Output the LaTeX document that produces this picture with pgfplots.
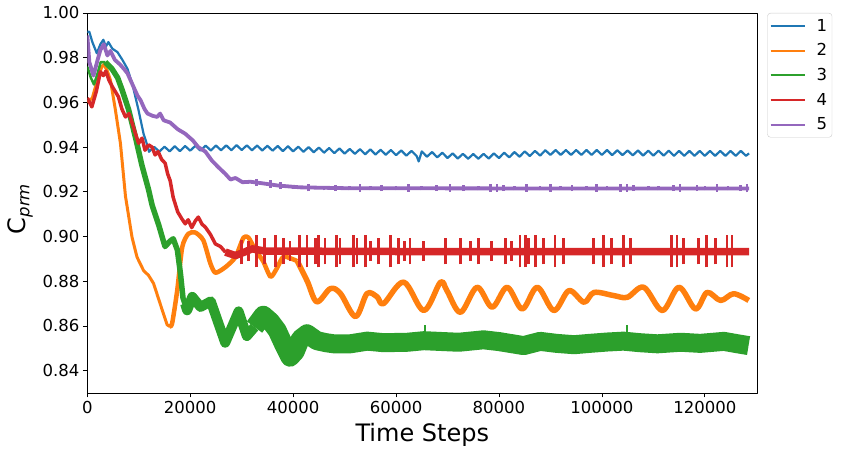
\documentclass[border=0pt]{standalone}
\usepackage{fontspec}
\setmainfont{DejaVu Sans}
\usepackage{pgfplots}
\pgfplotsset{compat=1.18}
\definecolor{c1}{HTML}{1F77B4}
\definecolor{c2}{HTML}{FF7F0E}
\definecolor{c3}{HTML}{2CA02C}
\definecolor{c4}{HTML}{D62728}
\definecolor{c5}{HTML}{9467BD}
\begin{document}
\begin{tikzpicture}
\useasboundingbox (-87.3pt,-61pt) rectangle (754.7pt,393pt);
\begin{axis}[
  at={(0pt,0pt)}, anchor=south west,
  scale only axis, width=670pt, height=380pt,
  xmin=0, xmax=130200, ymin=0.83, ymax=1.0,
  xtick={0,20000,40000,60000,80000,100000,120000},
  ytick={0.84,0.86,0.88,0.90,0.92,0.94,0.96,0.98,1.00},
  scaled x ticks=false, scaled y ticks=false,
  xticklabel style={/pgf/number format/.cd, fixed, 1000 sep={}},
  yticklabel style={/pgf/number format/.cd, fixed, fixed zerofill, precision=2},
  /pgf/number format/assume math mode=true,
  tick label style={font=\fontsize{16.5}{20}\selectfont},
  tick align=outside, major tick length=4.5pt,
  tick style={line width=0.8pt, black},
  xtick pos=left, ytick pos=left,
  axis line style={line width=0.8pt},
  xlabel={Time Steps},
  ylabel={C\raisebox{-4pt}{\fontsize{16.5}{20}\selectfont\itshape prm}},
  label style={font=\fontsize{24}{28}\selectfont},
  xlabel style={at={(axis description cs:0.5,0)}, anchor=north, yshift=-30pt, inner sep=0pt},
  ylabel style={at={(axis description cs:-0.081,0.484)}, anchor=south, inner sep=0pt},
  legend style={at={(1,1)}, anchor=north west, xshift=10pt, draw=black!20,
    rounded corners=3pt, fill=white, inner xsep=2pt, inner ysep=3pt, row sep=5pt,
    nodes={inner sep=3pt}, font=\fontsize{16.5}{20}\selectfont},
  legend cell align=left,
  legend image code/.code={\draw[#1] (0pt,0pt) -- (34pt,0pt); \path (42pt,0pt);},
  line join=round,
]
\addlegendimage{c1, line width=2pt}\addlegendentry{1}
\addlegendimage{c2, line width=2pt}\addlegendentry{2}
\addlegendimage{c3, line width=2pt}\addlegendentry{3}
\addlegendimage{c4, line width=2pt}\addlegendentry{4}
\addlegendimage{c5, line width=2pt}\addlegendentry{5}

% ---- series 1 (blue)
\addplot[c1, line width=2.2pt, forget plot] coordinates {
(0,0.9916)(390,0.9916)(980,0.987)(1850,0.982)(2540,0.986)(3120,0.988)(3610,0.985)(4100,0.987)(4880,0.984)(5860,0.9825)(6830,0.979)(7810,0.975)(8780,0.968)(9960,0.9565)(10930,0.946)(11710,0.9405)
(12000,.9379)(13000,.9401)(14000,.9380)(15000,.9402)(16000,.9381)(17000,.9404)(18000,.9382)(19000,.9405)(20000,.9384)(21000,.9406)(22000,.9384)(23000,.9407)(24000,.9385)(25000,.9407)(26000,.9386)(27000,.9408)(28000,.9386)(29000,.9409)(30000,.9387)(31000,.9408)(32000,.9386)(33000,.9407)(34000,.9385)(35000,.9406)(36000,.9384)(37000,.9405)(38000,.9382)(39000,.9404)(40000,.9381)(41000,.9402)(42000,.9379)(43000,.9400)(44000,.9377)(45000,.9398)(46000,.9375)(47000,.9396)(48000,.9373)(49000,.9394)(50000,.9371)(51000,.9392)(52000,.9370)(53000,.9391)(54000,.9368)(55000,.9390)(56000,.9367)(57000,.9388)(58000,.9366)(59000,.9387)(60000,.9364)(61000,.9385)(62000,.9362)(63000,.9383)(64000,.9360)(64400,.9336)(65000,.9381)(66000,.9357)(67000,.9378)(68000,.9354)(69000,.9375)(70000,.9351)(71000,.9372)(72000,.9349)(73000,.9370)(74000,.9348)(75000,.9369)(76000,.9348)(77000,.9370)(78000,.9349)(79000,.9372)(80000,.9351)(81000,.9375)(82000,.9354)(83000,.9378)(84000,.9357)(85000,.9381)(86000,.9360)(87000,.9383)(88000,.9362)(89000,.9386)(90000,.9365)(91000,.9387)(92000,.9365)(93000,.9387)(94000,.9365)(95000,.9387)(96000,.9365)(97000,.9387)(98000,.9365)(99000,.9387)(100000,.9365)(101000,.9387)(102000,.9364)(103000,.9386)(104000,.9364)(105000,.9385)(106000,.9363)(107000,.9385)(108000,.9362)(109000,.9384)(110000,.9362)(111000,.9384)(112000,.9362)(113000,.9384)(114000,.9361)(115000,.9383)(116000,.9361)(117000,.9383)(118000,.9361)(119000,.9383)(120000,.9361)(121000,.9383)(122000,.9361)(123000,.9383)(124000,.9361)(125000,.9383)(126000,.9361)(127000,.9383)(128000,.9361)(128600,.9372)
};

% ---- series 2 (orange)
\addplot[c2, line width=3pt, forget plot] coordinates {
(0,0.960)(980,0.962)(1950,0.970)(2830,0.976)(3220,0.977)(3900,0.974)(4490,0.970)(5470,0.9565)(6440,0.9417)(7420,0.918)(8690,0.8997)(9660,0.8908)(10930,0.8848)(11910,0.8826)(12880,0.879)(14150,0.870)(15520,0.8605)(16010,0.8598)(16490,0.8612)
};
\addplot[c2, line width=4.5pt, forget plot, smooth, tension=0.4] coordinates {
(16010,0.8598)(16490,0.8612)(17470,0.8758)(18450,0.8953)(19620,0.9012)(20980,0.9018)(22550,0.8983)(23910,0.888)(24890,0.8838)(26840,0.8863)(28790,0.8908)(30350,0.8995)(31330,0.8995)(32700,0.8938)(34160,0.889)(35620,0.882)(36890,0.886)(38160,0.891)(40800,0.889)
};
\addplot[c2, line width=5.5pt, forget plot, smooth, tension=0.55] coordinates {
(40800,0.889)(42750,0.880)(44600,0.8708)(47240,0.8767)(49190,0.8745)(52120,0.8642)(54360,0.8745)(56320,0.873)(57580,0.870)(61490,0.8796)(65390,0.8669)(68610,0.8795)(69880,0.8758)(72520,0.8661)(75740,0.8773)(78670,0.8684)(81590,0.8773)(84520,0.8676)(87450,0.8773)(90670,0.8669)(93600,0.8758)(96530,0.8706)(98480,0.875)(102280,0.8736)(104920,0.8728)(108140,0.8773)(111750,0.8669)(114970,0.8773)(118190,0.8676)(120440,0.875)(123070,0.8714)(125610,0.8744)(128540,0.8714)
};

% ---- series 3 (green)
\addplot[c3, line width=2.5pt, forget plot] coordinates {
(0,0.976)(700,0.971)(1300,0.968)(2000,0.973)(2600,0.978)(3500,0.978)
};
\addplot[c3, line width=5.5pt, forget plot] coordinates {
(3500,0.978)(4800,0.975)(5900,0.971)(6700,0.966)(8000,0.957)(9400,0.944)(10600,0.932)(11900,0.921)(12600,0.914)(13900,0.905)(15100,0.8955)(16100,0.898)(16700,0.899)(17500,0.894)(18100,0.8835)(18600,0.8725)(19400,0.867)
};
\addplot[c3, line width=10pt, forget plot] coordinates {
(19000,0.870)(19400,0.867)(20400,0.873)(22000,0.8685)(24000,0.871)(26800,0.8525)(29400,0.8665)(31000,0.8555)(32500,0.8595)
};
\addplot[c3, line width=19pt, forget plot] coordinates {
(32500,0.8595)(34200,0.8648)(35600,0.862)(36900,0.858)(38100,0.852)(39400,0.846)(40400,0.8485)(41400,0.8542)(42700,0.8565)(44600,0.8534)(46400,0.8525)(47900,0.852)(51100,0.852)(54400,0.8532)(57600,0.8525)(62200,0.8527)(65400,0.8534)(69200,0.853)(72200,0.8527)(77000,0.8538)(80000,0.853)(84800,0.8512)(88000,0.8531)(91200,0.8522)(94600,0.8516)(97600,0.8522)(101000,0.8528)(104200,0.8532)(107400,0.8525)(110800,0.852)(115300,0.8527)(119100,0.8522)(123700,0.8531)(126400,0.852)(128500,0.8512)
};
\addplot[c3, line width=1.5pt, forget plot, unbounded coords=jump] coordinates {
(65600,0.8570)(65600,0.8605)(65600,nan)(104900,0.8570)(104900,0.8606)(104900,nan)
};

% ---- series 4 (red)
\addplot[c4, line width=3.5pt, forget plot] coordinates {
(0,0.962)(880,0.958)(1760,0.965)(2540,0.9737)(3120,0.972)(3610,0.974)(4200,0.970)(4880,0.967)(6050,0.9625)(6730,0.957)(7420,0.9535)(8100,0.955)(8690,0.951)(9370,0.946)(9960,0.9417)(10640,0.944)(11220,0.9386)(11910,0.941)(12590,0.940)(13180,0.9365)(13760,0.938)(14440,0.9345)(15130,0.9328)(15620,0.928)(16100,0.925)(16690,0.9175)(17570,0.911)(18350,0.908)(19030,0.9057)(19600,0.9075)(20300,0.904)(21000,0.907)(21570,0.9087)(22300,0.9055)(22940,0.9042)(23910,0.901)(24890,0.8967)(25900,0.8955)(26840,0.893)
};
\addplot[c4, line width=7.5pt, forget plot] coordinates {
(26840,0.893)(28790,0.8915)(30500,0.893)(32010,0.8945)(34550,0.8935)(60000,0.8933)(90000,0.8932)(128600,0.8933)
};
\addplot[c4, line width=2.8pt, forget plot, unbounded coords=jump] coordinates {
(30000,0.8875)(30000,0.8985)(30000,nan)(31300,0.889)(31300,0.898)(31300,nan)
(32900,0.8862)(32900,0.9008)(32900,nan)(34500,0.8875)(34500,0.8995)(34500,nan)
(36500,0.8862)(36500,0.9008)(36500,nan)(38100,0.8875)(38100,0.8995)(38100,nan)
(39400,0.889)(39400,0.898)(39400,nan)(41300,0.8862)(41300,0.9008)(41300,nan)
(42700,0.8862)(42700,0.9008)(42700,nan)(44300,0.8875)(44300,0.8995)(44300,nan)
(44900,0.8862)(44900,0.9008)(44900,nan)(46200,0.8875)(46200,0.8995)(46200,nan)
(48500,0.8862)(48500,0.9008)(48500,nan)(49100,0.8875)(49100,0.8995)(49100,nan)
(51700,0.8862)(51700,0.9008)(51700,nan)(52400,0.8875)(52400,0.8995)(52400,nan)
(54000,0.8862)(54000,0.9008)(54000,nan)(55000,0.889)(55000,0.898)(55000,nan)
(56600,0.8875)(56600,0.8995)(56600,nan)(58900,0.8862)(58900,0.9008)(58900,nan)
(60500,0.8875)(60500,0.8995)(60500,nan)(61700,0.889)(61700,0.898)(61700,nan)
(62700,0.8875)(62700,0.8995)(62700,nan)(65300,0.889)(65300,0.898)(65300,nan)
(69600,0.8875)(69600,0.8995)(69600,nan)(72500,0.8875)(72500,0.8995)(72500,nan)
(74500,0.889)(74500,0.898)(74500,nan)(76000,0.8875)(76000,0.8995)(76000,nan)
(78600,0.889)(78600,0.898)(78600,nan)(81200,0.8875)(81200,0.8995)(81200,nan)
(82500,0.889)(82500,0.898)(82500,nan)(84100,0.8862)(84100,0.9008)(84100,nan)
(85100,0.8862)(85100,0.9008)(85100,nan)(85700,0.8875)(85700,0.8995)(85700,nan)
(87100,0.8862)(87100,0.9008)(87100,nan)(88600,0.8875)(88600,0.8995)(88600,nan)
(90900,0.8862)(90900,0.9008)(90900,nan)(92500,0.8875)(92500,0.8995)(92500,nan)
(98400,0.8875)(98400,0.8995)(98400,nan)(100300,0.8862)(100300,0.9008)(100300,nan)
(101900,0.8875)(101900,0.8995)(101900,nan)(104200,0.8862)(104200,0.9008)(104200,nan)
(105500,0.8875)(105500,0.8995)(105500,nan)(113600,0.8862)(113600,0.9008)(113600,nan)
(114600,0.8862)(114600,0.9008)(114600,nan)(115900,0.8875)(115900,0.8995)(115900,nan)
(118800,0.8875)(118800,0.8995)(118800,nan)(120400,0.8862)(120400,0.9008)(120400,nan)
(122000,0.8875)(122000,0.8995)(122000,nan)(124300,0.8862)(124300,0.9008)(124300,nan)
(125300,0.8862)(125300,0.9008)(125300,nan)
};

% ---- series 5 (purple)
\addplot[c5, line width=3.8pt, forget plot] coordinates {
(0,0.990)(400,0.978)(1200,0.972)(2000,0.979)(2540,0.9834)(3220,0.986)(3900,0.981)(4490,0.983)(5370,0.979)(6340,0.977)(7120,0.975)(7810,0.973)(8780,0.968)(9760,0.963)(10350,0.961)(11130,0.957)(11710,0.955)(12690,0.954)(13570,0.9535)(14150,0.955)(14840,0.952)(16100,0.951)(17570,0.948)(19030,0.946)(20500,0.943)(21570,0.940)(22940,0.938)(24200,0.934)(25470,0.931)(26840,0.928)(27820,0.9255)(28790,0.9262)(30160,0.9243)(31720,0.9245)(34060,0.9238)(37090,0.9228)(41380,0.922)(50750,0.9216)(90000,0.9215)(128600,0.9215)
};
\addplot[c5, line width=2.6pt, forget plot, unbounded coords=jump] coordinates {
(32900,.9227)(32900,.9259)(32900,nan)(35600,.9219)(35600,.9251)(35600,nan)
(37500,.9212)(37500,.9244)(37500,nan)(40000,.9212)(40000,.9232)(40000,nan)
(43000,.9202)(43000,.9236)(43000,nan)(46000,.9206)(46000,.9226)(46000,nan)
(48200,.9203)(48200,.9231)(48200,nan)(51000,.9206)(51000,.9226)(51000,nan)
(53000,.9200)(53000,.9234)(53000,nan)(55000,.9206)(55000,.9226)(55000,nan)
(57200,.9203)(57200,.9231)(57200,nan)(60000,.9206)(60000,.9226)(60000,nan)
(62400,.9200)(62400,.9234)(62400,nan)(65000,.9206)(65000,.9226)(65000,nan)
(67900,.9203)(67900,.9231)(67900,nan)(70500,.9200)(70500,.9234)(70500,nan)
(73100,.9203)(73100,.9231)(73100,nan)(76000,.9206)(76000,.9226)(76000,nan)
(78300,.9200)(78300,.9234)(78300,nan)(79600,.9200)(79600,.9234)(79600,nan)
(80900,.9203)(80900,.9231)(80900,nan)(83000,.9206)(83000,.9226)(83000,nan)
(85400,.9200)(85400,.9234)(85400,nan)(88000,.9206)(88000,.9226)(88000,nan)
(90000,.9200)(90000,.9234)(90000,nan)(92000,.9206)(92000,.9226)(92000,nan)
(94200,.9203)(94200,.9231)(94200,nan)(97000,.9206)(97000,.9226)(97000,nan)
(99000,.9200)(99000,.9234)(99000,nan)(101000,.9206)(101000,.9226)(101000,nan)
(103600,.9200)(103600,.9234)(103600,nan)(104900,.9200)(104900,.9234)(104900,nan)
(106100,.9203)(106100,.9231)(106100,nan)(109000,.9206)(109000,.9226)(109000,nan)
(111000,.9206)(111000,.9226)(111000,nan)(113900,.9203)(113900,.9231)(113900,nan)
(115200,.9200)(115200,.9234)(115200,nan)(118500,.9203)(118500,.9231)(118500,nan)
(120000,.9206)(120000,.9226)(120000,nan)(122400,.9200)(122400,.9234)(122400,nan)
(124500,.9206)(124500,.9226)(124500,nan)(126900,.9203)(126900,.9231)(126900,nan)
(128200,.9197)(128200,.9237)(128200,nan)
};
\end{axis}
\end{tikzpicture}
\end{document}
